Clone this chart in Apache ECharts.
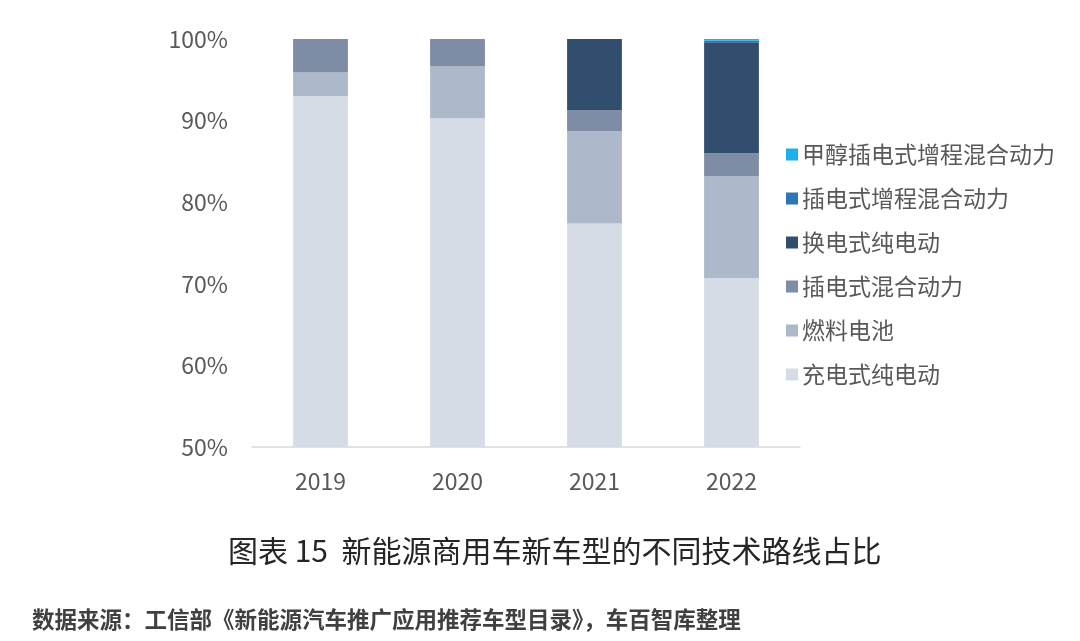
<!DOCTYPE html>
<html>
<head>
<meta charset="utf-8">
<script src="https://cdn.jsdelivr.net/npm/echarts@6/dist/echarts.min.js"></script>
<style>
html,body{margin:0;padding:0;background:#fff;}
#main{width:1080px;height:641px;}
</style>
</head>
<body>
<div id="main"></div>
<script>
// 年份
const years = ["2019","2020","2021","2022"];
// 各技术路线占比(%)
const chongdian = [93.0, 90.3, 77.4, 70.7];   // 充电式纯电动
const ranliao   = [2.9, 6.4, 11.3, 12.5];     // 燃料电池
const chahun    = [4.1, 3.3, 2.6, 2.8];       // 插电式混合动力
const huandian  = [0, 0, 8.7, 13.6];          // 换电式纯电动
const zengcheng = [0, 0, 0, 0.2];             // 插电式增程混合动力
const jiachun   = [0, 0, 0, 0.2];             // 甲醇插电式增程混合动力
const yTicks = [50, 60, 70, 80, 90, 100];

const names = ['充电式纯电动','燃料电池','插电式混合动力','换电式纯电动','插电式增程混合动力','甲醇插电式增程混合动力'];
const colors = ['#d6dce6','#adb8ca','#7f8ca5','#314e6f','#2e75b6','#1fb0ea'];
const datas = [chongdian, ranliao, chahun, huandian, zengcheng, jiachun];

let series = [];
for(let i=0;i<names.length;i++){
    series.push({
        name:names[i],
        type:'bar',
        stack:'total',
        barWidth:'40%',
        itemStyle:{color:colors[i]},
        data:datas[i]
    });
}

const font = '"Noto Sans CJK SC","Noto Sans",sans-serif';

echarts.init(document.getElementById('main')).setOption({
    animation:false,
    textStyle:{fontFamily:font},
    title:[
        {
            text:'图表 15  新能源商用车新车型的不同技术路线占比',
            left:223,
            top:531,
            textStyle:{fontSize:30,fontWeight:'normal',color:'#262626',fontFamily:font}
        },
        {
            text:'数据来源：工信部《新能源汽车推广应用推荐车型目录》，车百智库整理',
            left:27,
            top:603,
            textStyle:{fontSize:22.5,fontWeight:'bold',color:'#404040',fontFamily:font}
        }
    ],
    legend:{
        orient:'vertical',
        left:781,
        top:138,
        itemWidth:12,
        itemHeight:12,
        itemGap:21,
        icon:'rect',
        data:names.slice().reverse(),
        textStyle:{fontSize:23,color:'#595959',padding:[0,0,0,-1]}
    },
    grid:{
        left:252,
        right:280,
        top:39,
        bottom:194
    },
    xAxis:{
        type:'category',
        data:years,
        axisLine:{show:true,lineStyle:{color:'#d9d9d9',width:1.5}},
        axisTick:{show:false},
        axisLabel:{fontSize:23,color:'#595959',margin:23}
    },
    yAxis:{
        type:'value',
        min:yTicks[0],
        max:yTicks[yTicks.length-1],
        interval:10,
        splitLine:{show:false},
        axisLine:{show:false},
        axisTick:{show:false},
        axisLabel:{fontSize:23,color:'#595959',margin:24,formatter:'{value}%'}
    },
    series:series
});
</script>
</body>
</html>
